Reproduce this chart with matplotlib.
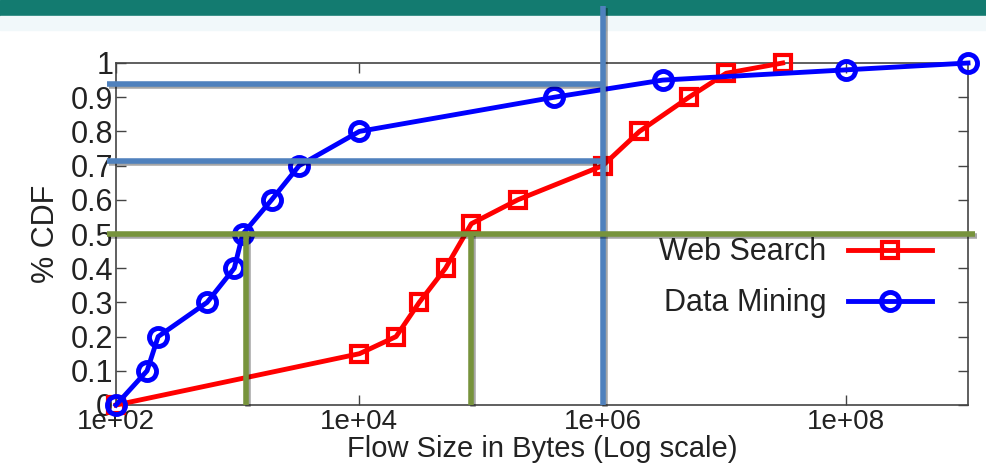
import matplotlib
matplotlib.use("Agg")
import matplotlib.pyplot as plt
import matplotlib.patheffects as pe
from matplotlib.patches import Rectangle

plt.rcParams['font.family'] = ['Liberation Sans', 'DejaVu Sans']

# flow size CDFs
web_search_bytes = [1e2, 1e4, 2e4, 3.1e4, 5.1e4, 8.3e4, 2e5, 1e6, 2e6, 5.1e6, 1.03e7, 3e7]
web_search_cdf = [0, 0.15, 0.2, 0.3, 0.4, 0.53, 0.6, 0.7, 0.8, 0.9, 0.97, 1.0]
data_mining_bytes = [1e2, 180, 222, 560, 937, 1100, 1900, 3200, 1e4, 4e5, 3.1e6, 1e8, 1e9]
data_mining_cdf = [0, 0.1, 0.2, 0.3, 0.4, 0.5, 0.6, 0.7, 0.8, 0.9, 0.95, 0.98, 1.0]

y_ticks = [0, 0.1, 0.2, 0.3, 0.4, 0.5, 0.6, 0.7, 0.8, 0.9, 1.0]
y_tick_labels = ['0', '0.1', '0.2', '0.3', '0.4', '0.5', '0.6', '0.7', '0.8', '0.9', '1']
x_ticks = [1e2, 1e4, 1e6, 1e8]
x_tick_labels = ['1e+02', '1e+04', '1e+06', '1e+08']

# slide overlay guide lines
blue_levels = [0.94, 0.714]
green_level = 0.5
green_drops = [1170, 8.3e4]
blue_drop = 1e6

fig = plt.figure(figsize=(9.86, 4.72), dpi=100)
# slide banner at top
fig.patches.append(Rectangle((0, 1 - 16 / 472), 1, 16 / 472, transform=fig.transFigure,
                             color='#137b70', zorder=-2))
fig.patches.append(Rectangle((0, 1 - 30 / 472), 1, 14 / 472, transform=fig.transFigure,
                             color='#f1f8fa', zorder=-2))

ax = fig.add_axes([116 / 986, 1 - 405 / 472, 852 / 986, 342 / 472])
ax.set_facecolor('none')

ax.plot(web_search_bytes, web_search_cdf, color='#ff0000', lw=3.5, marker='s', ms=12,
        mfc='none', mew=3, label='Web Search', clip_on=False, zorder=3)
ax.plot(data_mining_bytes, data_mining_cdf, color='#0000ff', lw=3.5, marker='o', ms=13,
        mfc='none', mew=3.5, label='Data Mining', clip_on=False, zorder=4)

ax.set_xscale('log')
ax.set_xlim(1e2, 1e9)
ax.set_ylim(0, 1)
ax.set_xticks(x_ticks)
ax.set_xticklabels(x_tick_labels)
ax.minorticks_off()
ax.set_yticks(y_ticks)
ax.set_yticklabels(y_tick_labels)
ax.tick_params(direction='in', length=7, width=1, color='#444444', labelsize=22,
               labelcolor='#222222', top=True, right=True, pad=2)
ax.tick_params(axis='x', pad=3, labelsize=20)
for s in ax.spines.values():
    s.set_color('#444444')
    s.set_linewidth(1.2)

ax.set_xlabel('Flow Size in Bytes (Log scale)', fontsize=21, color='#222222', labelpad=0)
ax.set_ylabel('% CDF', fontsize=22, color='#222222', labelpad=7)

leg = ax.legend(loc='upper right', bbox_to_anchor=(0.958, 0.49), frameon=False,
                markerfirst=False, fontsize=22, handlelength=2.75, handletextpad=0.72,
                borderpad=0, borderaxespad=0, labelspacing=0.68)
for t in leg.get_texts():
    t.set_color('#222222')

shadow = [pe.SimpleLineShadow(offset=(1.5, -1.5), alpha=0.35), pe.Normal()]
line_kw = dict(lw=4, clip_on=False, zorder=6, solid_capstyle='butt', path_effects=shadow)
for lv in blue_levels:
    ax.plot([84, blue_drop], [lv, lv], color='#4f81bd', **line_kw)
ax.plot([blue_drop, blue_drop], [0, 1.166], color='#4f81bd', **line_kw)
ax.plot([84, 1.14e9], [green_level, green_level], color='#77933c', **line_kw)
for gx in green_drops:
    ax.plot([gx, gx], [0, green_level], color='#77933c', **line_kw)

fig.savefig('out.png', dpi=100)
